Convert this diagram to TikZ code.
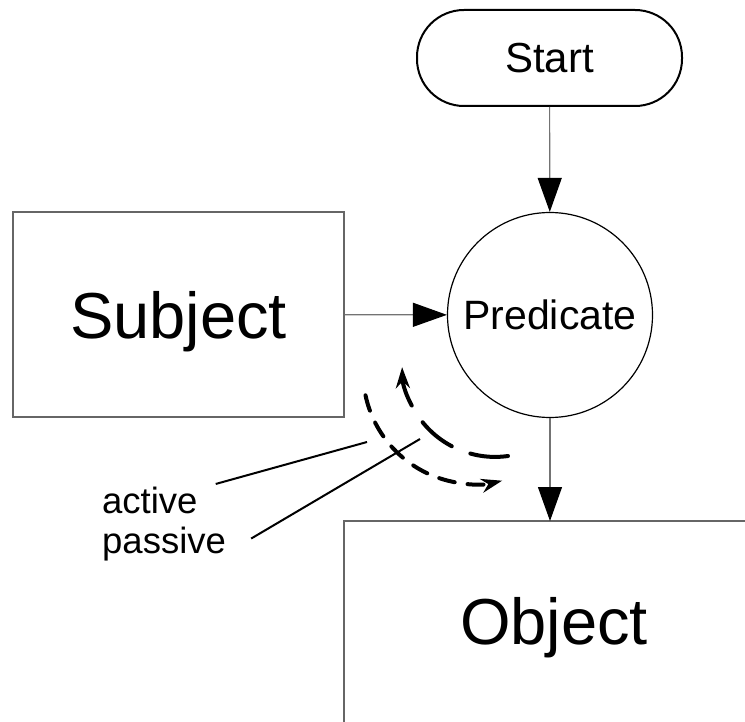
\documentclass[tikz,border=0pt]{standalone}
\usepackage{fontspec}
\setmainfont{Liberation Sans}
\usetikzlibrary{arrows.meta}
\usetikzlibrary{positioning}

\begin{document}
\begin{tikzpicture}[x=1pt,y=1pt,
		frame/.style={draw=black!60, line width=1.3pt},
		conn/.style={draw=black!55, line width=1.2pt, -{Triangle[length=34pt,width=24pt,color=black,fill=black]}},
		voice/.style={line width=4pt, line cap=round, -{Stealth[length=21pt,width=14pt]}},
		leader/.style={line width=2pt},
		bigtext/.style={font=\fontsize{65}{78}\selectfont, text depth=0pt},
		smalltext/.style={font=\fontsize{36.5}{41}\selectfont, inner sep=0pt}]
				\useasboundingbox (0,0) rectangle (745,-722);
				% boxes
				\node[draw, line width=2pt, rounded corners=47pt, minimum width=265pt, minimum height=96pt, font=\fontsize{42}{50}\selectfont] (start) at (549.5,-58) {Start};
				\node[draw, circle, line width=1.2pt, minimum size=205pt, inner sep=0pt, font=\fontsize{41}{49}\selectfont] (pred) at (550,-315) {Predicate};
				\node[frame, minimum width=331pt, minimum height=205pt, bigtext] (subj) at (178.5,-314.5) {Subject};
				\draw[frame] (344,-722) |- (745,-521);
				\node[bigtext] (obj) at (554,-621) {Object};
				\coordinate (objtop) at (550,-521);
				% arrows
				\draw[conn] (start) -- (pred);
				\draw[conn] (subj) -- (pred);
				\draw[conn] (pred) -- (objtop);
				% active / passive
				\coordinate (actbeg) at (508,-456);
				\coordinate (pasbeg) at (365.5,-395.3);
				\draw[voice, dash pattern=on 38pt off 20pt] (actbeg) arc[start angle=278, end angle=182, radius=93];
				\draw[voice, dash pattern=on 16pt off 13pt] (pasbeg) arc[start angle=192, end angle=284, radius=112];
				\node[smalltext, anchor=base west] (active) at (102,-513) {active};
				\node[smalltext, anchor=base west] (passive) at (102,-553) {passive};
				\coordinate (actpt) at (367,-442);
				\coordinate (paspt) at (420,-439);
				\draw[leader] ([xshift=18pt,yshift=16pt]active.east) -- (actpt);
				\draw[leader] ([xshift=25pt,yshift=5pt]passive.east) -- (paspt);
			\end{tikzpicture}
\end{document}
